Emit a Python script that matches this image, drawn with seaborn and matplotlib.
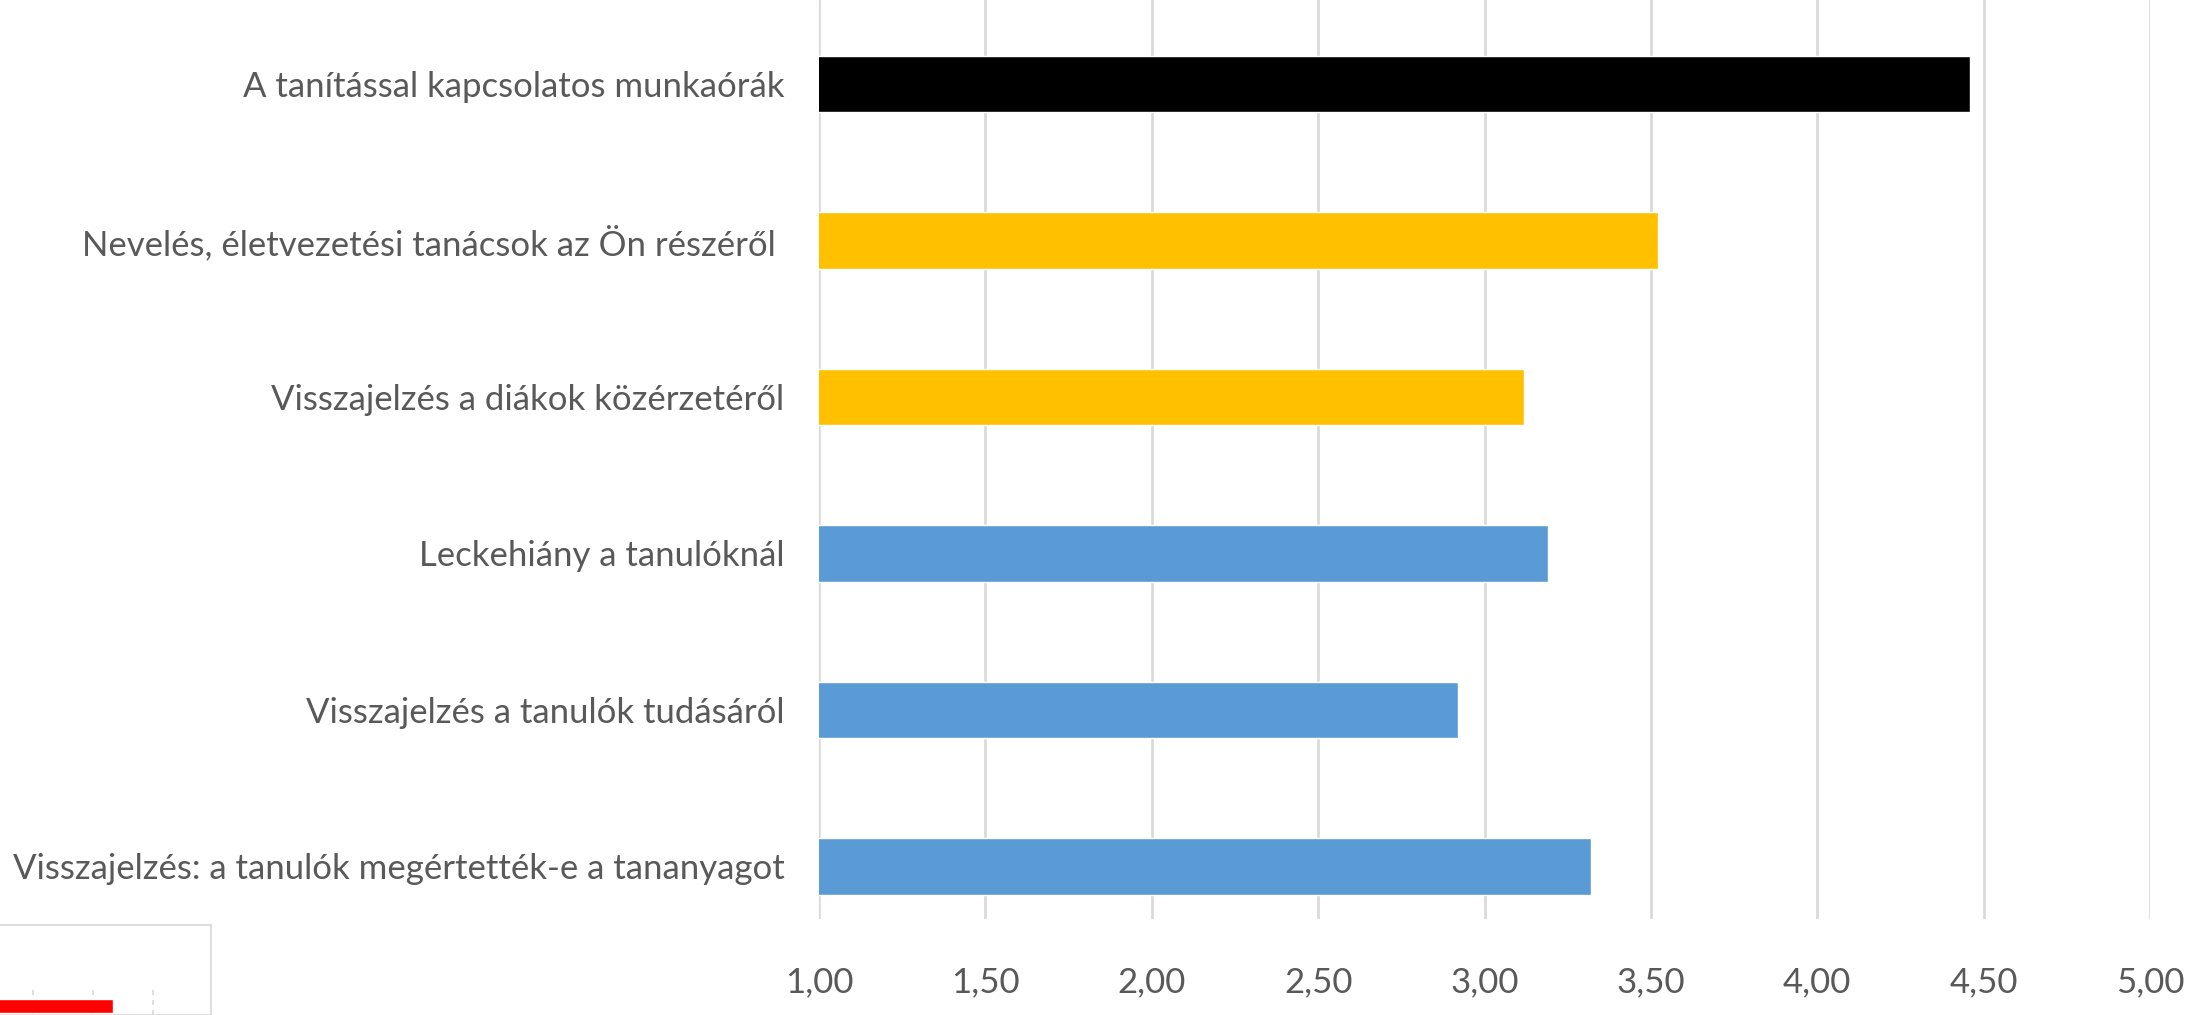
import matplotlib
matplotlib.use("Agg")
import matplotlib.pyplot as plt
import seaborn as sns
import pandas as pd

# Adatok (felülről lefelé)
categories = [
    "A tanítással kapcsolatos munkaórák",
    "Nevelés, életvezetési tanácsok az Ön részéről ",
    "Visszajelzés a diákok közérzetéről",
    "Leckehiány a tanulóknál",
    "Visszajelzés a tanulók tudásáról",
    "Visszajelzés: a tanulók megértették-e a tananyagot",
]
values = [4.46, 3.52, 3.12, 3.19, 2.92, 3.32]
bar_colors = ["#000000", "#FFC000", "#FFC000", "#5B9BD5", "#5B9BD5", "#5B9BD5"]
x_ticks = [1.0, 1.5, 2.0, 2.5, 3.0, 3.5, 4.0, 4.5, 5.0]

# a bal alsó sarokban látszó levágott diagramdarab
inset_values = [2.33]

sns.set_style("white")
plt.rcParams["font.family"] = ["Lato", "DejaVu Sans"]

df = pd.DataFrame({"kategoria": categories, "ertek": values})

fig = plt.figure(figsize=(22.11, 10.15), dpi=100)
W, H = 2211, 1015

# fő diagram
ax = fig.add_axes([819 / W, 1 - 919 / H, (2150 - 819) / W, 919 / H])
sns.barplot(data=df, x="ertek", y="kategoria", hue="kategoria",
            palette=dict(zip(categories, bar_colors)), order=categories,
            orient="h", width=0.36, legend=False, ax=ax, saturation=1)
ax.set_xlim(1, 5)
ax.set_ylim(5 + 52.5 / 156.5, -84 / 156.5)
ax.set_xticks(x_ticks)
ax.set_xticklabels([f"{t:.2f}".replace(".", ",") for t in x_ticks])
ax.xaxis.grid(True, color="#D9D9D9", linewidth=1.9)
ax.set_axisbelow(True)
for s in ax.spines.values():
    s.set_visible(False)
ax.tick_params(axis="y", length=0, pad=25, labelsize=25, labelcolor="#595959")
ax.tick_params(axis="x", length=0, pad=34, labelsize=25, labelcolor="#595959")
ax.set_xlabel("")
ax.set_ylabel("")

# levágott kis diagram keretje
box = fig.add_axes([-0.01, 0, (211 + 22) / W, (1015 - 925) / H])
box.set_xticks([])
box.set_yticks([])
for s in box.spines.values():
    s.set_color("#D9D9D9")
    s.set_linewidth(1.2)

inner = fig.add_axes([-27 / W, 0, 240 / W, 27 / H])
inner.barh([0], inset_values, height=0.5, color="#FF0000")
inner.set_xlim(0, 4)
inner.set_ylim(9 / 28, -18 / 28)
inner.set_xticks([1, 2, 3])
inner.set_yticks([])
inner.tick_params(axis="x", length=0, labelbottom=False)
inner.xaxis.grid(True, color="#D9D9D9", linewidth=1.2, linestyle=(0, (3, 3)))
inner.set_axisbelow(True)
inner.patch.set_alpha(0)
for s in inner.spines.values():
    s.set_visible(False)

fig.savefig("out.png", dpi=100)
